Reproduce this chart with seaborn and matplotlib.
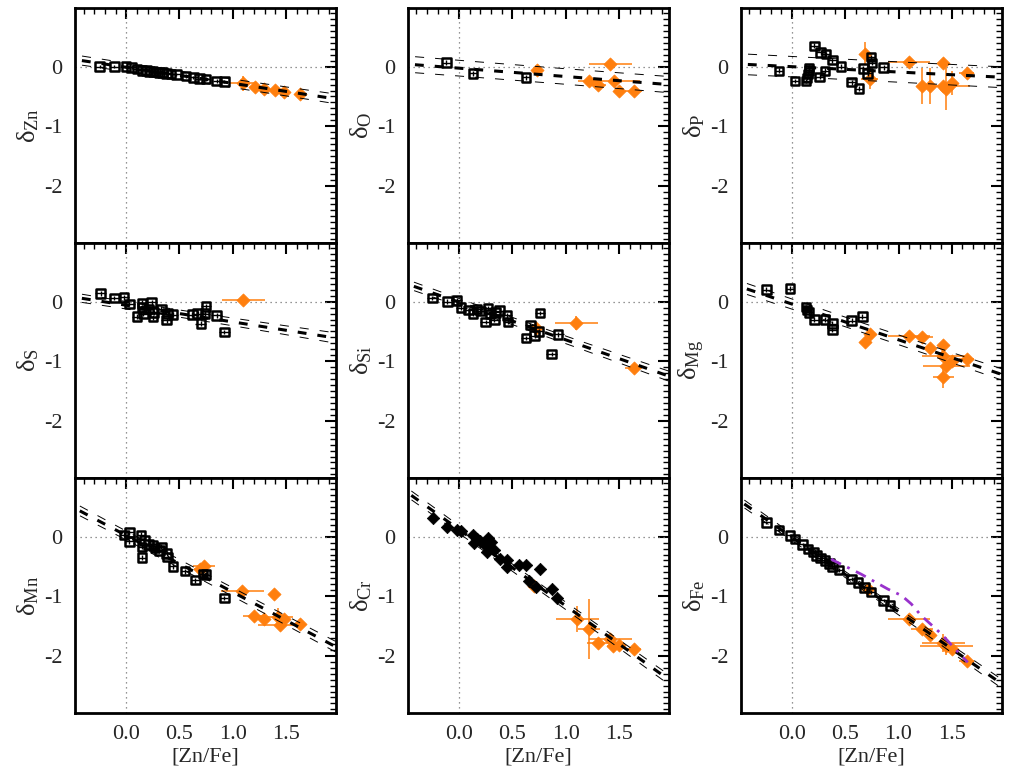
import numpy as np
import matplotlib
matplotlib.use('Agg')
import matplotlib.pyplot as plt
from matplotlib.ticker import MultipleLocator, FixedLocator
import seaborn as sns

# ---- values ----
elements = ['Zn', 'O', 'P', 'S', 'Si', 'Mg', 'Mn', 'Cr', 'Fe']

# black points (Galactic sight lines)
zn_bx = [-0.25, -0.11, 0.0, 0.05, 0.10, 0.15, 0.19, 0.22, 0.25, 0.28, 0.31, 0.34, 0.38, 0.42, 0.47, 0.56, 0.63, 0.69, 0.75, 0.85, 0.92]
zn_by = [0.0, 0.0, 0.0, -0.01, -0.04, -0.06, -0.06, -0.08, -0.08, -0.09, -0.10, -0.10, -0.11, -0.12, -0.13, -0.16, -0.18, -0.20, -0.21, -0.24, -0.25]
o_bx = [-0.12, 0.13, 0.63]
o_by = [0.07, -0.11, -0.18]
p_bx = [-0.12, 0.03, 0.13, 0.14, 0.15, 0.16, 0.16, 0.21, 0.27, 0.32, 0.38, 0.31, 0.26, 0.46, 0.56, 0.63, 0.67, 0.71, 0.74, 0.75, 0.86]
p_by = [-0.07, -0.24, -0.24, -0.19, -0.12, -0.06, -0.02, 0.35, 0.24, 0.21, 0.11, -0.07, -0.17, 0.0, -0.26, -0.37, -0.03, -0.11, 0.16, 0.06, -0.01]
s_bx = [-0.24, -0.11, -0.02, 0.03, 0.10, 0.15, 0.15, 0.16, 0.21, 0.24, 0.25, 0.26, 0.33, 0.38, 0.39, 0.44, 0.62, 0.67, 0.70, 0.74, 0.75, 0.85, 0.92]
s_by = [0.14, 0.06, 0.07, -0.04, -0.25, -0.02, -0.10, -0.20, -0.12, -0.01, -0.26, -0.18, -0.12, -0.31, -0.20, -0.22, -0.22, -0.20, -0.37, -0.20, -0.08, -0.23, -0.51]
si_bx = [-0.25, -0.11, -0.02, 0.02, 0.09, 0.13, 0.17, 0.20, 0.25, 0.27, 0.29, 0.33, 0.34, 0.38, 0.45, 0.46, 0.63, 0.67, 0.71, 0.75, 0.76, 0.87, 0.93]
si_by = [0.06, 0.0, 0.02, -0.10, -0.14, -0.20, -0.12, -0.16, -0.34, -0.11, -0.21, -0.30, -0.18, -0.15, -0.23, -0.34, -0.61, -0.39, -0.57, -0.50, -0.19, -0.88, -0.55]
mg_bx = [-0.24, -0.02, 0.13, 0.14, 0.16, 0.21, 0.31, 0.38, 0.38, 0.56, 0.66]
mg_by = [0.20, 0.22, -0.09, -0.14, -0.18, -0.30, -0.30, -0.37, -0.47, -0.32, -0.25]
mn_bx = [-0.02, 0.03, 0.03, 0.14, 0.15, 0.15, 0.17, 0.21, 0.25, 0.27, 0.33, 0.31, 0.38, 0.39, 0.44, 0.55, 0.65, 0.72, 0.75, 0.92]
mn_by = [0.03, 0.07, -0.08, 0.03, -0.17, -0.35, -0.06, -0.13, -0.15, -0.19, -0.17, -0.23, -0.28, -0.34, -0.50, -0.58, -0.73, -0.63, -0.64, -1.03]
cr_bx = [-0.24, -0.11, -0.02, 0.02, 0.13, 0.14, 0.17, 0.20, 0.25, 0.27, 0.26, 0.30, 0.33, 0.38, 0.45, 0.45, 0.56, 0.63, 0.76, 0.66, 0.72, 0.87, 0.92]
cr_by = [0.31, 0.17, 0.11, 0.10, 0.03, -0.11, -0.04, -0.08, -0.15, -0.03, -0.25, -0.09, -0.23, -0.37, -0.40, -0.51, -0.47, -0.47, -0.54, -0.74, -0.85, -0.88, -1.03]
fe_bx = [-0.24, -0.12, -0.02, 0.03, 0.10, 0.15, 0.20, 0.23, 0.27, 0.31, 0.35, 0.38, 0.44, 0.56, 0.62, 0.68, 0.74, 0.86, 0.92]
fe_by = [0.24, 0.11, 0.02, -0.04, -0.13, -0.21, -0.26, -0.32, -0.36, -0.40, -0.45, -0.50, -0.56, -0.71, -0.77, -0.85, -0.93, -1.07, -1.16]

# typical error of the black points, per panel
black_xerr = [0.04, 0.04, 0.04, 0.05, 0.05, 0.04, 0.04, 0.05, 0.04]
black_yerr = [0.03, 0.04, 0.04, 0.04, 0.04, 0.04, 0.04, 0.03, 0.03]

# orange points (DLAs) with their errors
zn_ox = [1.10, 1.21, 1.29, 1.40, 1.48, 1.63]
zn_oy = [-0.28, -0.34, -0.37, -0.39, -0.42, -0.46]
zn_oxe = [0.13, 0.05, 0.05, 0.05, 0.05, 0.05]
zn_oye = [0.12, 0.04, 0.03, 0.04, 0.04, 0.04]
o_ox = [0.73, 1.42, 1.22, 1.30, 1.45, 1.50, 1.64]
o_oy = [-0.06, 0.04, -0.24, -0.31, -0.24, -0.40, -0.40]
o_oxe = [0.03, 0.20, 0.10, 0.08, 0.25, 0.05, 0.08]
o_oye = [0.03, 0.05, 0.03, 0.03, 0.04, 0.03, 0.08]
p_ox = [0.69, 0.73, 1.10, 1.22, 1.30, 1.42, 1.42, 1.45, 1.50, 1.64]
p_oy = [0.22, -0.20, 0.08, -0.33, -0.33, 0.07, -0.33, -0.38, -0.28, -0.10]
p_oxe = [0.03, 0.08, 0.20, 0.03, 0.03, 0.03, 0.25, 0.03, 0.03, 0.07]
p_oye = [0.20, 0.18, 0.03, 0.30, 0.30, 0.03, 0.05, 0.35, 0.20, 0.05]
s_ox = [1.10]
s_oy = [0.03]
s_oxe = [0.20]
s_oye = [0.03]
si_ox = [0.72, 1.10, 1.64]
si_oy = [-0.44, -0.36, -1.11]
si_oxe = [0.05, 0.20, 0.08]
si_oye = [0.04, 0.12, 0.04]
mg_ox = [0.73, 0.69, 1.10, 1.22, 1.30, 1.42, 1.42, 1.45, 1.50, 1.64, 1.42]
mg_oy = [-0.55, -0.67, -0.58, -0.60, -0.77, -0.73, -0.92, -1.08, -0.99, -0.96, -1.27]
mg_oxe = [0.03, 0.05, 0.20, 0.10, 0.03, 0.03, 0.20, 0.22, 0.03, 0.07, 0.10]
mg_oye = [0.03, 0.03, 0.03, 0.03, 0.03, 0.03, 0.03, 0.03, 0.03, 0.03, 0.18]
mn_ox = [0.69, 0.73, 1.09, 1.39, 1.20, 1.29, 1.42, 1.48, 1.44, 1.63]
mn_oy = [-0.55, -0.50, -0.92, -0.96, -1.34, -1.38, -1.35, -1.39, -1.48, -1.47]
mn_oxe = [0.05, 0.10, 0.20, 0.03, 0.10, 0.05, 0.15, 0.05, 0.20, 0.05]
mn_oye = [0.03, 0.03, 0.03, 0.03, 0.03, 0.03, 0.15, 0.03, 0.05, 0.03]
cr_ox = [0.70, 1.11, 1.22, 1.30, 1.42, 1.44, 1.50, 1.64]
cr_oy = [-0.82, -1.38, -1.55, -1.78, -1.72, -1.83, -1.82, -1.88]
cr_oxe = [0.05, 0.20, 0.10, 0.10, 0.20, 0.05, 0.05, 0.07]
cr_oye = [0.03, 0.22, 0.50, 0.03, 0.04, 0.03, 0.03, 0.03]
fe_ox = [0.71, 1.10, 1.22, 1.30, 1.42, 1.45, 1.50, 1.64]
fe_oy = [-0.88, -1.39, -1.55, -1.65, -1.78, -1.83, -1.88, -2.08]
fe_oxe = [0.03, 0.20, 0.10, 0.03, 0.20, 0.25, 0.03, 0.07]
fe_oye = [0.03, 0.03, 0.03, 0.03, 0.15, 0.15, 0.03, 0.03]

# linear fits: intercept, slope and confidence band terms
fit_b = [-0.01, -0.025, 0.0, -0.06, -0.01, -0.04, 0.02, 0.12, -0.01]
fit_m = [-0.27, -0.14, -0.09, -0.28, -0.63, -0.60, -0.95, -1.28, -1.25]
band_a = [0.07, 0.13, 0.17, 0.06, 0.06, 0.08, 0.07, 0.06, 0.05]
band_b = [0.03, 0.03, 0.03, 0.04, 0.04, 0.04, 0.04, 0.04, 0.04]
band_piv = [0.6, 0.7, 0.6, 0.4, 0.5, 0.7, 0.6, 0.6, 0.6]

# model curve in the Fe panel
fe_model_x = [0.37, 0.38, 0.65, 0.90, 1.03, 1.12, 1.21, 1.40, 1.56, 1.65]
fe_model_y = [-0.37, -0.39, -0.63, -0.88, -0.99, -1.13, -1.32, -1.63, -1.94, -2.11]

black_x = [zn_bx, o_bx, p_bx, s_bx, si_bx, mg_bx, mn_bx, cr_bx, fe_bx]
black_y = [zn_by, o_by, p_by, s_by, si_by, mg_by, mn_by, cr_by, fe_by]
orange_x = [zn_ox, o_ox, p_ox, s_ox, si_ox, mg_ox, mn_ox, cr_ox, fe_ox]
orange_y = [zn_oy, o_oy, p_oy, s_oy, si_oy, mg_oy, mn_oy, cr_oy, fe_oy]
orange_xe = [zn_oxe, o_oxe, p_oxe, s_oxe, si_oxe, mg_oxe, mn_oxe, cr_oxe, fe_oxe]
orange_ye = [zn_oye, o_oye, p_oye, s_oye, si_oye, mg_oye, mn_oye, cr_oye, fe_oye]

ORANGE = '#ff7f0e'
PURPLE = '#9932cc'

sns.set_style('white')
plt.rcParams['font.family'] = ['Liberation Serif', 'DejaVu Serif']
plt.rcParams['mathtext.fontset'] = 'custom'
plt.rcParams['mathtext.rm'] = 'Liberation Serif'
plt.rcParams['mathtext.it'] = 'Liberation Serif:italic'
plt.rcParams['axes.unicode_minus'] = False

fig, axes = plt.subplots(3, 3, figsize=(10.35, 7.77), dpi=100)
fig.subplots_adjust(left=0.0725, right=0.968, top=0.9897, bottom=0.0824,
                    wspace=0.275, hspace=0)

xs = np.linspace(-0.6, 2.1, 300)

for k, ax in enumerate(axes.flat):
    el = elements[k]

    # reference lines
    ax.axhline(0, color='0.45', ls=(0, (1, 3)), lw=0.9, zorder=1)
    ax.axvline(0, color='0.45', ls=(0, (1, 3)), lw=0.9, zorder=1)

    # fit and confidence band
    fit = fit_b[k] + fit_m[k] * xs
    half = np.sqrt(band_a[k] ** 2 + (band_b[k] * (xs - band_piv[k])) ** 2)
    ax.plot(xs, fit, color='k', lw=2.2, ls=(0, (2.9, 3.6)), zorder=6)
    ax.plot(xs, fit + half, color='k', lw=0.7, ls=(0, (9.3, 11.3)), zorder=6)
    ax.plot(xs, fit - half, color='k', lw=0.7, ls=(0, (9.3, 11.3)), zorder=6)

    # orange points
    ax.errorbar(orange_x[k], orange_y[k], xerr=orange_xe[k], yerr=orange_ye[k],
                fmt='none', ecolor=ORANGE, elinewidth=1.3, capsize=0, alpha=0.85, zorder=2)
    sns.scatterplot(x=orange_x[k], y=orange_y[k], marker='D', s=45, color=ORANGE,
                    edgecolor=ORANGE, linewidth=0.5, ax=ax, zorder=3)

    # black points
    ax.errorbar(black_x[k], black_y[k], xerr=black_xerr[k], yerr=black_yerr[k],
                fmt='none', ecolor='k', elinewidth=1.0, capsize=0, zorder=4)
    if el == 'Cr':
        sns.scatterplot(x=black_x[k], y=black_y[k], marker='D', s=40, color='k',
                        edgecolor='k', linewidth=0.5, ax=ax, zorder=5)
    else:
        sns.scatterplot(x=black_x[k], y=black_y[k], marker='s', s=38, facecolor='none',
                        edgecolor='k', linewidth=1.8, ax=ax, zorder=5)

    if el == 'Fe':
        ax.plot(fe_model_x, fe_model_y, color=PURPLE, lw=2.0,
                ls=(0, (4, 2.5, 1, 2.5)), zorder=7)

    ax.set_xlim(-0.48, 1.97)
    ax.set_ylim(-2.96, 0.985)
    ax.xaxis.set_major_locator(FixedLocator([0.0, 0.5, 1.0, 1.5]))
    ax.xaxis.set_minor_locator(MultipleLocator(0.1))
    ax.yaxis.set_major_locator(FixedLocator([-2, -1, 0]))
    ax.yaxis.set_minor_locator(MultipleLocator(0.1))
    ax.tick_params(which='both', direction='in', top=True, right=True,
                   labelsize=16, color='k')
    ax.tick_params(which='major', length=8, width=1.5, pad=9)
    ax.tick_params(which='minor', length=4, width=1.0)
    ax.set_yticklabels(['-2', '-1', '0'])
    for sp in ax.spines.values():
        sp.set_linewidth(2.0)
        sp.set_color('k')

    ax.set_ylabel('δ$_{\\rm ' + el + '}$', fontsize=19, labelpad=2)
    if k >= 6:
        ax.set_xticklabels(['0.0', '0.5', '1.0', '1.5'])
        ax.set_xlabel('[Zn/Fe]', fontsize=16, labelpad=2)
    else:
        ax.tick_params(labelbottom=False)

fig.savefig('out.png', dpi=100)
